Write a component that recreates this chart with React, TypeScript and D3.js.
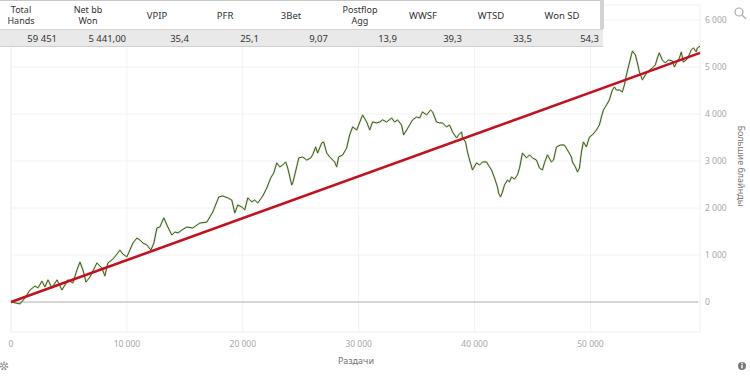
import React from "react";
import * as d3 from "d3";

// ---- Data ----
const headerLabels: string[][] = [
  ["Total", "Hands"],
  ["Net bb", "Won"],
  ["VPIP"],
  ["PFR"],
  ["3Bet"],
  ["Postflop", "Agg"],
  ["WWSF"],
  ["WTSD"],
  ["Won SD"],
];
const rowValues: string[] = ["59 451", "5 441,00", "35,4", "25,1", "9,07", "13,9", "39,3", "33,5", "54,3"];

const hands: number[] = [
  0, 780, 1210, 1640, 2070, 2330, 2670, 2930, 3190, 3530, 3970, 4400, 4650, 4910, 5340, 5690, 5950, 6210, 6470, 6810,
  6980, 7410, 7840, 8100, 8360, 8710, 8960, 9400, 9650, 10000, 10260, 10520, 10860, 11120, 11380, 11720, 12070, 12330,
  12590, 12840, 13190, 13530, 13880, 14140, 14400, 14740, 15170, 15690, 16290, 16900, 17410, 17930, 18270, 18710, 19050,
  19310, 19570, 19910, 20170, 20430, 20770, 21030, 21290, 21720, 22070, 22410, 22670, 22930, 23190, 23450, 23700, 23880,
  24220, 24310, 24650, 24830, 25170, 25520, 25860, 26030, 26290, 26460, 26810, 26980, 27240, 27500, 27930, 28100, 28270,
  28620, 28960, 29220, 29480, 29830, 30340, 30690, 30950, 31200, 31550, 31810, 32070, 32410, 32840, 33100, 33360, 33700,
  33880, 34140, 34390, 34650, 35000, 35260, 35510, 35860, 36200, 36380, 36720, 36980, 37240, 37580, 37840, 38100, 38450,
  38620, 38880, 38960, 39220, 39390, 39570, 39820, 40170, 40430, 40690, 41030, 41290, 41460, 41720, 41980, 42070, 42240,
  42410, 42580, 42840, 43010, 43190, 43440, 43700, 43880, 44130, 44480, 44740, 45000, 45340, 45600, 45860, 46030, 46290,
  46630, 46810, 47070, 47410, 47750, 48010, 48360, 48440, 48700, 48880, 49050, 49220, 49390, 49650, 49910, 50170, 50510,
  50770, 50940, 51120, 51380, 51630, 51890, 52070, 52240, 52500, 52750, 52930, 53100, 53270, 53530, 53620, 53880, 54050,
  54220, 54480, 54740, 55000, 55340, 55600, 55770, 55940, 56200, 56460, 56720, 57060, 57240, 57410, 57670, 57840, 58010,
  58270, 58440, 58700, 58880, 59130, 59220, 59451,
];
const netBb: number[] = [
  0, -40, 85, 255, 340, 300, 445, 320, 470, 300, 470, 255, 360, 470, 405, 680, 850, 680, 425, 530,
  615, 830, 725, 555, 830, 895, 960, 1105, 1020, 960, 1107, 1255, 1360, 1320, 1255, 1215, 1105, 1256,
  1575, 1595, 1790, 1596, 1425, 1490, 1470, 1530, 1595, 1575, 1680, 1700, 1915, 2235, 2255, 2215, 2170,
  1895, 2065, 2020, 1960, 2215, 2130, 2170, 2105, 2255, 2425, 2640, 2745, 2960, 2875, 2915, 2980, 2850,
  2490, 2530, 2875, 3065, 3085, 3020, 3064, 3130, 3300, 3170, 3385, 3405, 3171, 3086, 2979, 2873, 3086,
  3128, 3275, 3555, 3725, 3660, 3980, 3830, 3660, 3830, 3810, 3830, 3875, 3830, 3915, 3830, 3875, 3765,
  3555, 3660, 3765, 3875, 3935, 3915, 4045, 3980, 4085, 4045, 3830, 3810, 3810, 3725, 3765, 3620, 3490,
  3555, 3620, 3490, 3405, 3190, 3020, 2810, 2960, 2915, 2980, 2980, 2875, 2810, 2640, 2445, 2320, 2235,
  2340, 2490, 2595, 2555, 2660, 2615, 2705, 2850, 3170, 3065, 3130, 3064, 3020, 2850, 2810, 2960, 3130,
  2980, 3020, 3300, 3340, 3340, 3235, 3085, 2980, 2875, 2765, 2850, 3190, 3405, 3300, 3510, 3555, 3660,
  3765, 3935, 4085, 4190, 4300, 4510, 4575, 4510, 4510, 4470, 4620, 4830, 5000, 5255, 5340, 5255, 5085,
  4895, 4725, 4830, 4915, 4980, 5045, 5190, 5300, 5150, 5085, 5150, 5130, 5000, 5085, 5190, 5320, 5105,
  5150, 5215, 5365, 5405, 5320, 5405, 5441,
];
const trendHands: number[] = [0, 59451];
const trendBb: number[] = [0, 5300];

const xTicks: number[] = [0, 10000, 20000, 30000, 40000, 50000];
const yTicks: number[] = [0, 1000, 2000, 3000, 4000, 5000, 6000];
const xTitle = "Раздачи";
const yTitle = "Большие блайнды";

// ---- Layout ----
const W = 750;
const H = 376;
const plotLeft = 11;
const plotRight = 700;
const plotTop = 20;
const plotBottom = 332;

const locale = d3.formatLocale({ decimal: ",", thousands: " ", grouping: [3], currency: ["", ""] });
const fmt = locale.format(",d");

const font = "'Noto Sans', 'Open Sans', Arial, sans-serif";

// column geometry for the stats table
const headerCenters = [21, 88, 157, 225, 291, 360, 423, 491, 562];
const valueRights = [57, 126, 189, 259, 328, 397, 462, 532, 599];

export default function App() {
  const x = d3.scaleLinear().domain([0, 59451]).range([plotLeft, plotRight]);
  const y = d3.scaleLinear().domain([0, 6000]).range([302, plotTop]);

  const pts: [number, number][] = hands.map((h, i) => [h, netBb[i]]);
  const line = d3
    .line<[number, number]>()
    .x((d) => x(d[0]))
    .y((d) => y(d[1]))
    .curve(d3.curveLinear);
  const trendPts: [number, number][] = trendHands.map((h, i) => [h, trendBb[i]]);

  return (
    <svg
      width={W}
      height={H}
      style={{ position: "absolute", left: 0, top: 0, background: "#fff", fontFamily: font }}
    >
      {/* plot frame */}
      <rect x={plotLeft} y={plotTop - 15} width={plotRight - plotLeft} height={plotBottom - plotTop + 15} fill="none" stroke="#f0f0f0" />
      {/* grid */}
      {yTicks.map((t) => (
        <line key={"gy" + t} x1={plotLeft} x2={plotRight} y1={y(t)} y2={y(t)} stroke="#f2f2f2" />
      ))}
      {xTicks.map((t) => (
        <line key={"gx" + t} x1={x(t)} x2={x(t)} y1={plotTop - 15} y2={plotBottom} stroke="#f2f2f2" />
      ))}
      {/* zero line */}
      <line x1={plotLeft} x2={plotRight - 2} y1={y(0)} y2={y(0)} stroke="#b4b4b4" strokeWidth={1.2} />

      {/* series */}
      <path d={line(pts) || ""} fill="none" stroke="#b9d39a" strokeWidth={2.2} strokeOpacity={0.55} strokeLinejoin="round" />
      <path d={line(pts) || ""} fill="none" stroke="#3f5a22" strokeWidth={1} strokeLinejoin="round" />
      <path d={line(trendPts) || ""} fill="none" stroke="#c4111f" strokeWidth={2.6} />

      {/* x axis labels */}
      {xTicks.map((t) => (
        <text key={"xl" + t} x={x(t)} y={347} textAnchor="middle" fontSize={8.5} fill="#a8a8a8">
          {fmt(t)}
        </text>
      ))}
      <text x={356} y={364} textAnchor="middle" fontSize={9} fill="#777">
        {xTitle}
      </text>

      {/* y axis labels */}
      {yTicks.map((t) => (
        <text key={"yl" + t} x={705} y={y(t)} dy="0.35em" textAnchor="start" fontSize={8.5} fill="#a8a8a8">
          {fmt(t)}
        </text>
      ))}
      <text
        transform={`translate(738,166) rotate(90)`}
        textAnchor="middle"
        fontSize={9}
        fill="#777"
      >
        {yTitle}
      </text>

      {/* table */}
      <rect x={0} y={0} width={604} height={29} fill="#fff" />
      <line x1={0} x2={604} y1={0.5} y2={0.5} stroke="#c8c8c8" />
      <rect x={0} y={29} width={603} height={17} fill="#e9e9e9" />
      <line x1={0} x2={603} y1={29.5} y2={29.5} stroke="#d6d6d6" />
      <line x1={0} x2={603} y1={46.5} y2={46.5} stroke="#cfcfcf" />
      <rect x={600} y={0} width={4} height={29} fill="#d2d2d2" />
      {headerLabels.map((lines, i) =>
        lines.length === 2 ? (
          <g key={"h" + i}>
            <text x={headerCenters[i]} y={12.5} textAnchor="middle" fontSize={9} fill="#333">
              {lines[0]}
            </text>
            <text x={headerCenters[i]} y={24} textAnchor="middle" fontSize={9} fill="#333">
              {lines[1]}
            </text>
          </g>
        ) : (
          <text key={"h" + i} x={headerCenters[i]} y={18.5} textAnchor="middle" fontSize={9.5} fill="#333">
            {lines[0]}
          </text>
        )
      )}
      {rowValues.map((v, i) => (
        <text key={"v" + i} x={valueRights[i]} y={41.5} textAnchor="end" fontSize={9.5} fill="#333">
          {v}
        </text>
      ))}

      {/* icons */}
      <g stroke="#aaa" strokeWidth={1.2} fill="none">
        <circle cx={739} cy={12} r={4} />
        <line x1={742} y1={15} x2={746} y2={19} />
      </g>
      <g transform="translate(4,366)">
        <circle r={3.2} fill="none" stroke="#999" strokeWidth={2.4} strokeDasharray="1.6 1.2" />
        <circle r={1.5} fill="none" stroke="#999" strokeWidth={1} />
      </g>
      <g transform="translate(742,366)">
        <circle r={4} fill="#777" />
        <rect x={-0.7} y={-1.2} width={1.4} height={3.5} fill="#fff" />
        <circle cx={0} cy={-2.6} r={0.8} fill="#fff" />
      </g>
    </svg>
  );
}
